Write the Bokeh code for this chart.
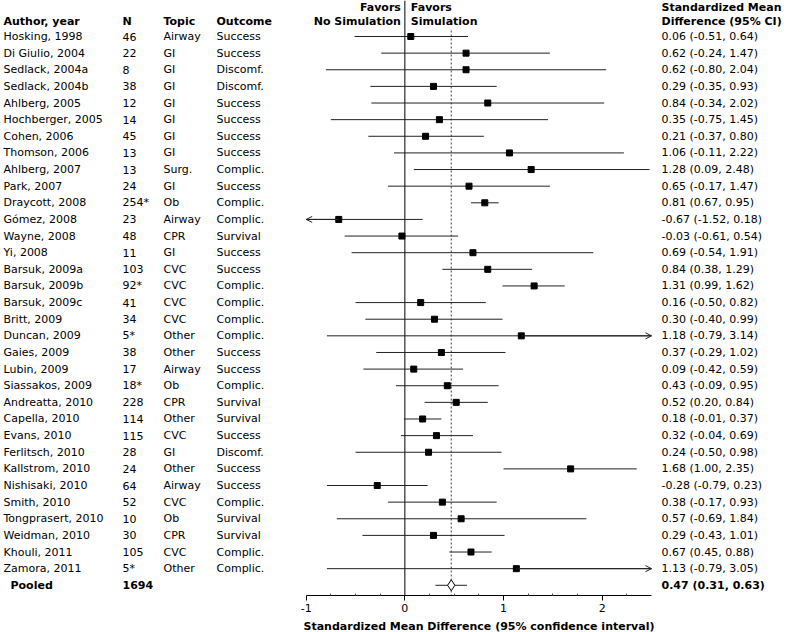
from bokeh.plotting import figure
from bokeh.models import ColumnDataSource, Range1d, FixedTicker, Arrow, OpenHead
from bokeh.core.properties import value
from bokeh.embed import file_html
from bokeh.resources import INLINE

# ---------------- data ----------------
authors = ["Hosking, 1998", "Di Giulio, 2004", "Sedlack, 2004a", "Sedlack, 2004b",
           "Ahlberg, 2005", "Hochberger, 2005", "Cohen, 2006", "Thomson, 2006",
           "Ahlberg, 2007", "Park, 2007", "Draycott, 2008", "Gómez, 2008",
           "Wayne, 2008", "Yi, 2008", "Barsuk, 2009a", "Barsuk, 2009b",
           "Barsuk, 2009c", "Britt, 2009", "Duncan, 2009", "Gaies, 2009",
           "Lubin, 2009", "Siassakos, 2009", "Andreatta, 2010", "Capella, 2010",
           "Evans, 2010", "Ferlitsch, 2010", "Kallstrom, 2010", "Nishisaki, 2010",
           "Smith, 2010", "Tongprasert, 2010", "Weidman, 2010", "Khouli, 2011",
           "Zamora, 2011"]
n_labels = ["46", "22", "8", "38", "12", "14", "45", "13", "13", "24", "254*", "23",
            "48", "11", "103", "92*", "41", "34", "5*", "38", "17", "18*", "228",
            "114", "115", "28", "24", "64", "52", "10", "30", "105", "5*"]
topics = ["Airway", "GI", "GI", "GI", "GI", "GI", "GI", "GI", "Surg.", "GI", "Ob",
          "Airway", "CPR", "GI", "CVC", "CVC", "CVC", "CVC", "Other", "Other",
          "Airway", "Ob", "CPR", "Other", "CVC", "GI", "Other", "Airway", "CVC",
          "Ob", "CPR", "CVC", "Other"]
outcomes = ["Success", "Success", "Discomf.", "Discomf.", "Success", "Success",
            "Success", "Success", "Complic.", "Success", "Complic.", "Complic.",
            "Survival", "Success", "Success", "Complic.", "Complic.", "Complic.",
            "Complic.", "Success", "Success", "Complic.", "Survival", "Survival",
            "Success", "Discomf.", "Success", "Success", "Complic.", "Survival",
            "Survival", "Complic.", "Complic."]
smd = [0.06, 0.62, 0.62, 0.29, 0.84, 0.35, 0.21, 1.06, 1.28, 0.65, 0.81, -0.67,
       -0.03, 0.69, 0.84, 1.31, 0.16, 0.30, 1.18, 0.37, 0.09, 0.43, 0.52, 0.18,
       0.32, 0.24, 1.68, -0.28, 0.38, 0.57, 0.29, 0.67, 1.13]
ci_low = [-0.51, -0.24, -0.80, -0.35, -0.34, -0.75, -0.37, -0.11, 0.09, -0.17, 0.67,
          -1.52, -0.61, -0.54, 0.38, 0.99, -0.50, -0.40, -0.79, -0.29, -0.42, -0.09,
          0.20, -0.01, -0.04, -0.50, 1.00, -0.79, -0.17, -0.69, -0.43, 0.45, -0.79]
ci_high = [0.64, 1.47, 2.04, 0.93, 2.02, 1.45, 0.80, 2.22, 2.48, 1.47, 0.95, 0.18,
           0.54, 1.91, 1.29, 1.62, 0.82, 0.99, 3.14, 1.02, 0.59, 0.95, 0.84, 0.37,
           0.69, 0.98, 2.35, 0.23, 0.93, 1.84, 1.01, 0.88, 3.05]
pooled_label = "Pooled"
pooled_n = "1694"
pooled_smd = 0.47
pooled_low = 0.31
pooled_high = 0.63
axis_ticks = [-1, 0, 1, 2]
axis_tick_labels = ["-1", "0", "1", "2"]
axis_minor_ticks = [-0.75, -0.5, -0.25, 0.25, 0.5, 0.75, 1.25, 1.5, 1.75, 2.25]
axis_min, axis_max = -1, 2.5
axis_title = "Standardized Mean Difference (95% confidence interval)"

# ---------------- geometry helpers (reference pixels -> data units) ----------------
W, H = 787, 632
def px2x(px):
    return -1 + (px - 305.7) / 98.67

def py2r(py):
    return (py - 36.0) / 16.63

FONT = value("DejaVu Sans")
FS = "11px"
AXIS_ROW = py2r(595)

p = figure(width=W, height=H, output_backend="svg", toolbar_location=None,
           x_range=Range1d(px2x(0), px2x(W)), y_range=Range1d(py2r(H), py2r(0)),
           y_axis_location=None, min_border_left=0, min_border_right=0,
           min_border_top=0, min_border_bottom=0)
p.outline_line_color = None
p.xgrid.visible = False
p.ygrid.visible = False
p.background_fill_color = "white"
p.border_fill_color = "white"

ax = p.xaxis[0]
ax.fixed_location = AXIS_ROW
ax.ticker = FixedTicker(ticks=axis_ticks, minor_ticks=axis_minor_ticks)
ax.major_label_overrides = {t: s for t, s in zip(axis_ticks, axis_tick_labels)}
ax.bounds = (axis_min, axis_max)
ax.axis_line_color = "black"
ax.major_tick_line_color = "black"
ax.major_tick_in = 0
ax.major_tick_out = 5
ax.minor_tick_line_color = "#555555"
ax.minor_tick_in = 2
ax.minor_tick_out = 0
ax.major_label_text_font = "DejaVu Sans"
ax.major_label_text_font_size = FS
ax.major_label_text_color = "black"
ax.major_label_standoff = 3
ax.axis_label = axis_title
ax.axis_label_text_font = "DejaVu Sans"
ax.axis_label_text_font_size = FS
ax.axis_label_text_font_style = "bold"
ax.axis_label_text_color = "black"
ax.axis_label_standoff = 5

rows = list(range(len(authors)))
pooled_row = len(authors)
right_labels = [f"{m:.2f} ({l:.2f}, {h:.2f})" for m, l, h in zip(smd, ci_low, ci_high)]
seg_x0 = [max(l, axis_min) for l in ci_low]
seg_x1 = [min(h, axis_max) for h in ci_high]

src = ColumnDataSource(dict(y=rows, author=authors, n=n_labels, topic=topics,
                            outcome=outcomes, smd=smd, x0=seg_x0, x1=seg_x1,
                            right=right_labels))

# zero line and pooled dashed line (from top down to the axis line)
p.segment(x0=[0], y0=[py2r(0)], x1=[0], y1=[AXIS_ROW],
          line_color="black", line_width=1)
p.segment(x0=[pooled_smd], y0=[py2r(30)], x1=[pooled_smd], y1=[AXIS_ROW],
          line_color="#444444", line_width=1, line_dash="2 2")

# confidence intervals and point estimates
p.segment(x0="x0", y0="y", x1="x1", y1="y", source=src, line_color="#222222", line_width=1)
p.scatter(x="smd", y="y", source=src, marker="square", size=6, fill_color="black",
          line_color="black")

# arrows for truncated intervals
for i in rows:
    if ci_low[i] < axis_min:
        p.add_layout(Arrow(end=OpenHead(size=6, line_width=1, line_color="#222222"),
                           x_start=smd[i], y_start=i, x_end=axis_min, y_end=i,
                           line_color="#222222", line_width=1))
    if ci_high[i] > axis_max:
        p.add_layout(Arrow(end=OpenHead(size=6, line_width=1, line_color="#222222"),
                           x_start=smd[i], y_start=i, x_end=axis_max, y_end=i,
                           line_color="#222222", line_width=1))

# pooled estimate
p.segment(x0=[pooled_low], y0=[pooled_row], x1=[pooled_high], y1=[pooled_row],
          line_color="#222222", line_width=1)
p.scatter(x=[pooled_smd], y=[pooled_row], marker="diamond", size=11,
          fill_color="white", line_color="black", line_width=1)

# table text
common = dict(text_font=FONT, text_font_size=FS, text_color="black",
              text_baseline="middle")
p.text(x=px2x(3), y="y", text="author", source=src, text_align="left", **common)
p.text(x=px2x(122), y="y", text="n", source=src, text_align="left", **common)
p.text(x=px2x(163), y="y", text="topic", source=src, text_align="left", **common)
p.text(x=px2x(216), y="y", text="outcome", source=src, text_align="left", **common)
p.text(x=px2x(661), y="y", text="right", source=src, text_align="left", **common)

bold = dict(common, text_font_style="bold")
hdr_y = py2r(21)
hdr_y1 = py2r(7)
p.text(x=[px2x(3), px2x(122), px2x(163), px2x(216)], y=[hdr_y] * 4,
       text=["Author, year", "N", "Topic", "Outcome"], text_align="left", **bold)
p.text(x=[px2x(661), px2x(661)], y=[hdr_y1, hdr_y],
       text=["Standardized Mean", "Difference (95% CI)"], text_align="left", **bold)
p.text(x=[0, 0], y=[hdr_y1, hdr_y], text=["Favors", "No Simulation"],
       text_align="right", x_offset=-4, **bold)
p.text(x=[0, 0], y=[hdr_y1, hdr_y], text=["Favors", "Simulation"],
       text_align="left", x_offset=6, **bold)

# pooled row text
p.text(x=[px2x(10), px2x(122)], y=[pooled_row] * 2, text=[pooled_label, pooled_n],
       text_align="left", **bold)
p.text(x=[px2x(661)], y=[pooled_row],
       text=[f"{pooled_smd:.2f} ({pooled_low:.2f}, {pooled_high:.2f})"],
       text_align="left", **bold)

open("out.html", "w").write(file_html(p, INLINE))
